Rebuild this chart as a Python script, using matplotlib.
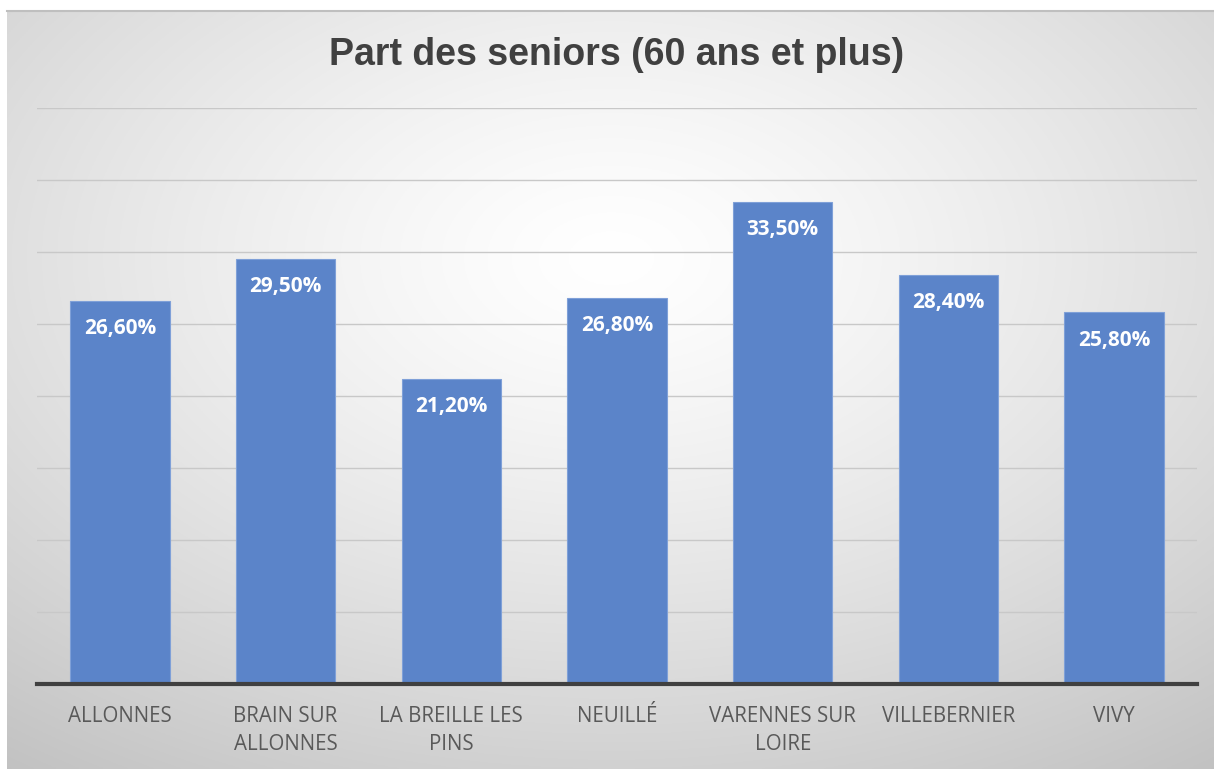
import numpy as np
import matplotlib
matplotlib.use("Agg")
import matplotlib.pyplot as plt

communes = ["ALLONNES", "BRAIN SUR\nALLONNES", "LA BREILLE LES\nPINS", "NEUILLÉ",
            "VARENNES SUR\nLOIRE", "VILLEBERNIER", "VIVY"]
part_seniors = [26.6, 29.5, 21.2, 26.8, 33.5, 28.4, 25.8]
labels = ["26,60%", "29,50%", "21,20%", "26,80%", "33,50%", "28,40%", "25,80%"]

W, H = 1214, 769
fig = plt.figure(figsize=(W / 100, H / 100), dpi=100)
fig.patch.set_facecolor("white")

# radial grey gradient background of the chart area
bg = fig.add_axes([7 / W, 0, 1 - 7 / W, 1 - 11 / H])
bg.set_axis_off()
yy, xx = np.mgrid[0:400, 0:640]
cx, cy = 320, 130
r = np.sqrt(((xx - cx) / 640) ** 2 + ((yy - cy) / 400) ** 2)
r = r / r.max()
v = 1.0 - 0.24 * np.clip(r, 0, 1) ** 1.3
bg.imshow(np.dstack([v, v, v]), aspect="auto", extent=[0, 1, 0, 1], origin="upper")
bg.set_xlim(0, 1)
bg.set_ylim(0, 1)
bg.plot([0, 1], [1, 1], color="#bfbfbf", lw=1.5, transform=bg.transAxes, clip_on=False)

ax = fig.add_axes([37 / W, 1 - 684 / H, (1197 - 37) / W, (684 - 108) / H])
ax.patch.set_alpha(0)
x = np.arange(len(communes))
bars = ax.bar(x, part_seniors, width=0.6, color="#5B84C9", edgecolor="#7fa0d8",
              linewidth=0.8, zorder=3)
ax.set_xlim(-0.5, 6.5)
ax.set_ylim(0, 40)
ax.set_yticks(np.arange(0, 41, 5))
ax.yaxis.grid(True, color="#c8c8c8", lw=1.0, zorder=0)
ax.tick_params(axis="y", left=False, labelleft=False)
ax.tick_params(axis="x", length=0, pad=16)
ax.set_xticks(x)
ax.set_xticklabels(communes, fontsize=14.8, color="#595959", family="Open Sans",
                   linespacing=1.45, va="top")
for s in ["top", "right", "left"]:
    ax.spines[s].set_visible(False)
ax.spines["bottom"].set_color("#404040")
ax.spines["bottom"].set_linewidth(3)
ax.spines["bottom"].set_zorder(4)

for xi, val, lab in zip(x, part_seniors, labels):
    ax.annotate(lab, (xi, val), xytext=(0, -20), textcoords="offset points",
                ha="center", va="center", color="white", fontsize=15,
                fontweight="bold", family="Open Sans", zorder=5)

fig.text(617 / W, 1 - 55 / H, "Part des seniors (60 ans et plus)", ha="center",
         va="center", fontsize=27, fontweight="bold", color="#404040",
         family="Liberation Sans")

fig.savefig("out.png", dpi=100)
